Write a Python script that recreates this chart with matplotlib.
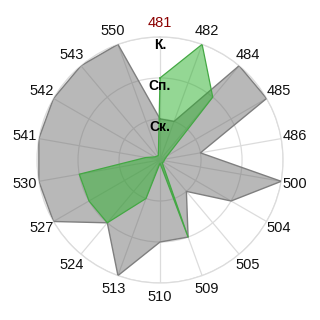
import numpy as np
import matplotlib
matplotlib.use("Agg")
import matplotlib.pyplot as plt

categories = ["481", "482", "484", "485", "486", "500", "504", "505", "509",
              "510", "513", "524", "527", "530", "541", "542", "543", "550"]
gray_values = [1, 1, 3, 3, 1, 3, 2, 1, 2, 2, 3, 2, 3, 3, 3, 3, 3, 3]
green_values = [2, 3, 2, 0.2, 0.12, 0.1, 0.1, 0.08, 2, 0.08, 1, 2, 2, 2, 0.35, 0.15, 0.12, 0.12]
level_labels = ["Ск.", "Сп.", "К."]
level_values = [1, 2, 3]

plt.rcParams['font.family'] = ['Liberation Sans', 'DejaVu Sans']

fig = plt.figure(figsize=(3.2, 3.2), dpi=100)
ax = fig.add_axes([0.1156, 0.1156, 0.769, 0.769], projection='polar')
ax.set_theta_offset(np.pi / 2)
ax.set_theta_direction(-1)

n = len(categories)
angles = np.arange(n) * 2 * np.pi / n
ang_closed = np.append(angles, angles[0])

ax.set_ylim(0, 3)
ax.set_yticks(level_values)
ax.set_yticklabels([])
ax.set_xticks(angles)
ax.set_xticklabels([])
ax.grid(True, color='#dcdcdc', linewidth=0.9)
ax.spines['polar'].set_color('#dcdcdc')
ax.spines['polar'].set_linewidth(0.9)
ax.set_axisbelow(True)
ax.tick_params(length=0)

g = np.append(gray_values, gray_values[0])
ax.fill(ang_closed, g, color=(0.40, 0.40, 0.40), alpha=0.46, linewidth=0, zorder=2)
ax.plot(ang_closed, g, color='#7f7f7f', linewidth=1.0, zorder=3)

gr = np.append(green_values, green_values[0])
ax.fill(ang_closed, gr, color=(0.17, 0.69, 0.17), alpha=0.5, linewidth=0, zorder=4)
ax.plot(ang_closed, gr, color='#44a844', linewidth=0.9, zorder=5)

for a, c in zip(angles, categories):
    ax.text(a, 3.34, c, ha='center', va='center', fontsize=10.5,
            color='#8b0000' if c == "481" else '#111111', clip_on=False)

for v, lab in zip(level_values, level_labels):
    ax.text(0, v - 0.2, lab, ha='center', va='center', fontsize=10,
            fontweight='bold', color='black', zorder=6)

fig.savefig("out.png", dpi=100)
